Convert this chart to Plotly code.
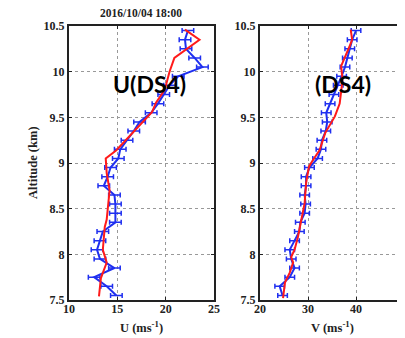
import plotly.graph_objects as go

alt_obs = [7.55, 7.65, 7.75, 7.85, 7.95, 8.05, 8.15, 8.25, 8.35, 8.45,
           8.55, 8.65, 8.75, 8.85, 8.95, 9.05, 9.15, 9.25, 9.35, 9.45,
           9.55, 9.65, 9.75, 9.85, 9.95, 10.05, 10.15, 10.25, 10.35, 10.45]
u_obs = [14.9, 13.9, 12.6, 14.7, 13.2, 12.9, 13.2, 13.5, 14.8, 14.8,
         14.8, 14.7, 13.6, 14.0, 14.3, 15.1, 15.3, 16.0, 16.7, 17.3,
         18.5, 19.2, 19.8, 20.4, 21.3, 23.8, 23.0, 22.1, 22.0, 22.3]
u_err = [0.6] * 30
v_obs = [24.7, 24.1, 26.2, 27.2, 26.5, 26.2, 27.2, 28.2, 28.4, 29.3,
         29.5, 29.3, 29.6, 29.6, 30.3, 32.0, 32.7, 32.9, 33.7, 34.0,
         33.8, 34.6, 35.4, 36.3, 37.0, 37.7, 38.2, 38.7, 39.2, 40.0]
v_err = [1.0] * 30

alt_u_mod = [7.54, 7.74, 7.91, 8.05, 8.30, 8.38, 8.70, 8.89, 9.05, 9.14,
             9.56, 9.66, 9.80, 10.0, 10.15, 10.24, 10.35, 10.46]
u_mod = [13.1, 13.3, 13.9, 13.5, 13.7, 13.9, 14.2, 13.9, 13.8, 14.9,
         18.6, 19.0, 19.9, 20.4, 20.9, 22.1, 23.5, 22.0]

alt_v_mod = [7.52, 7.69, 7.80, 7.91, 7.97, 8.05, 8.19, 8.38, 8.56, 8.78,
             8.96, 9.03, 9.14, 9.33, 9.51, 9.65, 9.91, 10.06, 10.13, 10.27,
             10.35, 10.46]
v_mod = [24.8, 25.2, 26.2, 26.9, 26.5, 27.2, 27.9, 28.6, 29.3, 29.6,
         30.2, 31.0, 32.4, 33.6, 35.6, 36.6, 37.2, 36.9, 37.5, 38.6,
         39.2, 38.9]

u_ticks = [10, 15, 20, 25]
v_ticks = [20, 30, 40, 50]
alt_ticks = [7.5, 8, 8.5, 9, 9.5, 10, 10.5]

# page has an 8px body margin; figure sized to fit the window
OFF = 8
W, H = 405 - OFF, 338 - OFF


def px(x):
    return (x - OFF) / W


def py(y):
    return 1 - (y - OFF) / H


BLUE = "#1f2ff0"
RED = "#ff1a1a"

fig = go.Figure()
fig.add_trace(go.Scatter(x=u_obs, y=alt_obs, mode="lines", xaxis="x", yaxis="y",
                         line=dict(color=BLUE, width=2),
                         error_x=dict(type="data", array=u_err, color=BLUE, thickness=1.5, width=2.5),
                         showlegend=False))
fig.add_trace(go.Scatter(x=u_mod, y=alt_u_mod, mode="lines", xaxis="x", yaxis="y",
                         line=dict(color=RED, width=2), showlegend=False))
fig.add_trace(go.Scatter(x=v_obs, y=alt_obs, mode="lines", xaxis="x2", yaxis="y2",
                         line=dict(color=BLUE, width=2),
                         error_x=dict(type="data", array=v_err, color=BLUE, thickness=1.5, width=2.5),
                         showlegend=False))
fig.add_trace(go.Scatter(x=v_mod, y=alt_v_mod, mode="lines", xaxis="x2", yaxis="y2",
                         line=dict(color=RED, width=2), showlegend=False))

tickfont = dict(family="Liberation Serif", size=12, color="#222", weight="bold")
common = dict(showline=True, linecolor="#222", linewidth=2, mirror="ticks",
              ticks="inside", ticklen=3, tickcolor="#222",
              showgrid=True, gridcolor="#999", griddash="dot", gridwidth=1,
              zeroline=False, tickfont=tickfont, automargin=False)

ydom = [py(300), py(26)]
fig.update_layout(
    width=W, height=H, margin=dict(l=0, r=0, t=0, b=0),
    paper_bgcolor="white", plot_bgcolor="white",
    xaxis=dict(domain=[px(69), px(214)], range=[10, 25], tickvals=u_ticks, anchor="y",
               ticklabelstandoff=-3, **common),
    yaxis=dict(domain=ydom, range=[7.5, 10.5], tickvals=alt_ticks, anchor="x", **common),
    xaxis2=dict(domain=[px(260), px(404)], range=[20, 50], tickvals=v_ticks, anchor="y2",
                ticklabelstandoff=-3, **common),
    yaxis2=dict(domain=ydom, range=[7.5, 10.5], tickvals=alt_ticks, anchor="x2", **common),
)

lab = dict(family="Liberation Serif", size=12.5, color="#222")
ann = dict(xref="paper", yref="paper", showarrow=False, xanchor="center", yanchor="middle")
fig.add_annotation(text="<b>2016/10/04 18:00</b>", x=px(141), y=py(13),
                   font=dict(family="Liberation Serif", size=11.5, color="#222"), **ann)
fig.add_annotation(text="<b>Altitude (km)</b>", x=px(33), y=py(163), textangle=-90, font=lab, **ann)
fig.add_annotation(text="<b>U (ms<sup>-1</sup>)</b>", x=px(141), y=py(327), font=lab, **ann)
fig.add_annotation(text="<b>V (ms<sup>-1</sup>)</b>", x=px(332), y=py(327), font=lab, **ann)
big = dict(family="Lato", size=23, color="black")
fig.add_annotation(text="<b>U(DS4)</b>", x=px(149), y=py(84), font=big, **ann)
fig.add_annotation(text="<b>(DS4)</b>", x=px(343), y=py(84), font=big, **ann)

fig.write_html("out.html")
